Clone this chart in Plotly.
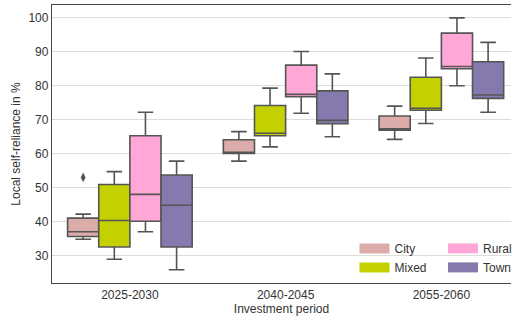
import plotly.graph_objects as go

# Investment periods on the x axis
periods = ["2025-2030", "2040-2045", "2055-2060"]
settlements = ["City", "Mixed", "Rural", "Town"]

# Box statistics per settlement type (one value per period), in %
city_q1 = [35.6, 60.1, 66.9]
city_med = [37.0, 60.4, 67.3]
city_q3 = [41.0, 64.1, 71.1]
city_lo = [34.8, 57.8, 64.2]
city_hi = [42.2, 66.5, 74.0]

mixed_q1 = [32.5, 65.3, 72.8]
mixed_med = [40.3, 66.0, 73.4]
mixed_q3 = [50.9, 74.2, 82.5]
mixed_lo = [28.9, 62.0, 68.9]
mixed_hi = [54.7, 79.3, 88.2]

rural_q1 = [40.1, 76.8, 85.0]
rural_med = [48.0, 77.5, 85.7]
rural_q3 = [65.3, 86.1, 95.5]
rural_lo = [37.0, 71.9, 80.0]
rural_hi = [72.2, 90.1, 100.0]

town_q1 = [32.5, 68.8, 76.3]
town_med = [44.8, 69.8, 77.3]
town_q3 = [53.7, 78.5, 87.1]
town_lo = [25.8, 65.0, 72.2]
town_hi = [57.8, 83.5, 92.8]

# Outliers: (period index, settlement, value)
outlier_period = [0]
outlier_group = ["City"]
outlier_value = [53.0]

y_ticks = [30, 40, 50, 60, 70, 80, 90, 100]

colors = {
    "City": "#dbacaa",
    "Mixed": "#c3d100",
    "Rural": "#ffa8d8",
    "Town": "#8679ad",
}
stats = {
    "City": (city_q1, city_med, city_q3, city_lo, city_hi),
    "Mixed": (mixed_q1, mixed_med, mixed_q3, mixed_lo, mixed_hi),
    "Rural": (rural_q1, rural_med, rural_q3, rural_lo, rural_hi),
    "Town": (town_q1, town_med, town_q3, town_lo, town_hi),
}

edge = "#555555"
n_hue = len(settlements)
box_w = 0.8 / n_hue


def offset(name):
    return (settlements.index(name) - (n_hue - 1) / 2) * box_w


fig = go.Figure()

for name in settlements:
    q1, med, q3, lo, hi = stats[name]
    xs = [i + offset(name) for i in range(len(periods))]
    fig.add_trace(go.Box(
        x=xs, q1=q1, median=med, q3=q3, lowerfence=lo, upperfence=hi,
        width=box_w, whiskerwidth=0.5,
        fillcolor=colors[name], line=dict(color=edge, width=1.6),
        showlegend=False, hoverinfo="skip",
    ))

fig.add_trace(go.Scatter(
    x=[p + offset(g) for p, g in zip(outlier_period, outlier_group)],
    y=outlier_value, mode="markers",
    marker=dict(symbol="diamond-tall", size=7, color=edge),
    showlegend=False, hoverinfo="skip",
))

# Legend swatches: two columns (City/Mixed, Rural/Town)
legend_cols = {"City": "legend", "Mixed": "legend", "Rural": "legend2", "Town": "legend2"}
for name in settlements:
    fig.add_trace(go.Scatter(
        x=[None], y=[None], mode="lines", name=name,
        line=dict(color=colors[name], width=10),
        legend=legend_cols[name],
    ))

font = dict(family="Liberation Sans, Arial, sans-serif", size=12, color="#333333")
leg_common = dict(
    bgcolor="rgba(255,255,255,0)", borderwidth=0, font=font,
    yanchor="bottom", y=0.004, xanchor="left", tracegroupgap=0, itemwidth=30,
)

fig.update_layout(
    width=517, height=320,
    margin=dict(l=52, r=0, t=5, b=37),
    paper_bgcolor="white", plot_bgcolor="white",
    font=font,
    xaxis=dict(
        range=[-0.5, 2.447], tickvals=list(range(len(periods))), ticktext=periods,
        showgrid=False, zeroline=False, showline=True, mirror=True,
        linecolor="#444444", linewidth=1.3, ticks="",
        title=dict(text="Investment period", standoff=3, font=font),
    ),
    yaxis=dict(
        range=[21.9, 103.8], tickvals=y_ticks,
        showgrid=True, gridcolor="#dcdcdc", gridwidth=1.4, zeroline=False,
        showline=True, linecolor="#444444", linewidth=1.3, ticks="",
        title=dict(text="Local self-reliance in %", standoff=5, font=font),
    ),
    legend=dict(x=0.659, **leg_common),
    legend2=dict(x=0.852, **leg_common),
)

fig.write_html("out.html")
